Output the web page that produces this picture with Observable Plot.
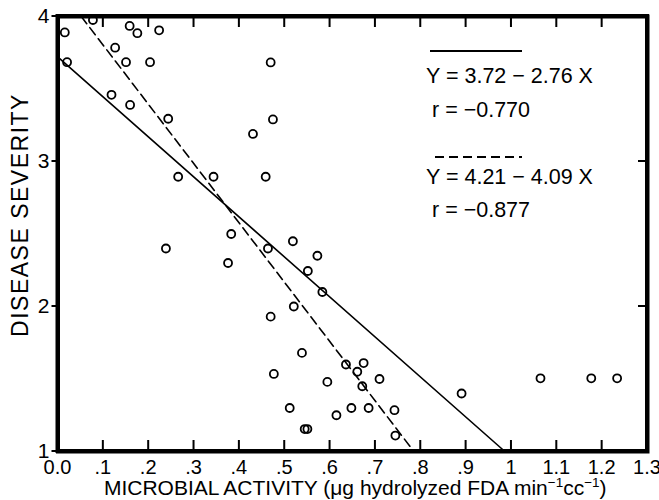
<!DOCTYPE html>
<html><head><meta charset="utf-8">
<script src="https://cdn.jsdelivr.net/npm/d3@7"></script>
<script src="https://cdn.jsdelivr.net/npm/@observablehq/plot@0.6"></script>
<style>
body{margin:0;background:#fff}
svg{display:block}
</style>
</head><body><div id="chart"></div>
<script>
// microbial activity (x) and disease severity (y) for each sample
const activity = [0.015,0.077,0.158,0.175,0.223,0.126,0.020,0.150,0.203,0.118,0.159,0.243,
  0.430,0.265,0.343,0.458,0.382,0.238,0.463,0.375,0.518,0.572,0.551,0.583,0.520,0.469,
  0.538,0.635,0.674,0.660,0.594,0.709,0.671,0.647,0.685,0.614,0.742,0.544,0.550,0.744,
  0.890,1.064,1.176,1.233,0.476,0.511,0.469,0.474];
const severity = [3.89,3.976,3.935,3.885,3.905,3.785,3.685,3.685,3.685,3.46,3.39,3.295,
  3.19,2.895,2.895,2.895,2.50,2.40,2.40,2.30,2.45,2.35,2.245,2.10,2.00,1.93,
  1.68,1.60,1.61,1.55,1.48,1.50,1.45,1.30,1.30,1.25,1.285,1.155,1.155,1.11,
  1.40,1.505,1.505,1.505,1.535,1.30,3.683,3.29];

const xTickValues = [0,0.1,0.2,0.3,0.4,0.5,0.6,0.7,0.8,0.9,1,1.1,1.2,1.3];
const xTickLabels = ["0.0",".1",".2",".3",".4",".5",".6",".7",".8",".9","1","1.1","1.2","1.3"];
const yTickValues = [1,2,3,4];
const yTickLabels = ["1","2","3","4"];

// regression fits
const fitIntercept = [3.72, 4.21];
const fitSlope = [-2.76, -4.09];
const fitRText = ["\u22120.770", "\u22120.877"];

const xLabelParts = [["MICROBIAL ACTIVITY (\u03bcg hydrolyzed FDA min", false], ["\u22121", true], ["cc", false], ["\u22121", true], [")", false]];
const yLabel = "DISEASE SEVERITY";

const points = activity.map((x, i) => ({x, y: severity[i]}));
const xDomain = [0, 1.3], yDomain = [1, 4];

const fits = fitIntercept.map((a, i) => {
  const b = fitSlope[i];
  const x0 = Math.max(xDomain[0], (yDomain[1] - a) / b);
  const x1 = Math.min(xDomain[1], (yDomain[0] - a) / b);
  return {a, b, seg: [{x: x0, y: a + b * x0}, {x: x1, y: a + b * x1}]};
});
const dashes = [null, "9,5"];

const font = "'Liberation Sans', Arial, Helvetica, sans-serif";

const SVGNS = "http://www.w3.org/2000/svg";
function el(name, attrs, parent) {
  const e = document.createElementNS(SVGNS, name);
  for (const k in attrs) if (attrs[k] != null) e.setAttribute(k, attrs[k]);
  if (parent) parent.appendChild(e);
  return e;
}

// annotation: legend swatches and fit equations
const annotationMark = (index, scales, values, dims) => {
  const g = el("g", {"font-family": font, "font-size": 21.5, fill: "#000", "text-anchor": "start"});
  const sw = [{x1: 430, x2: 522, y: 51}, {x1: 435, x2: 522, y: 157}];
  const eqBase = [83, 183.5];
  const rBase = [116.5, 216.5];
  fits.forEach((f, i) => {
    el("line", {x1: sw[i].x1, x2: sw[i].x2, y1: sw[i].y, y2: sw[i].y, stroke: "black",
      "stroke-width": 2, "stroke-dasharray": dashes[i]}, g);
    const t1 = el("text", {x: 426, y: eqBase[i], "text-anchor": "start"}, g);
    t1.textContent = `Y = ${f.a.toFixed(2)} \u2212 ${Math.abs(f.b).toFixed(2)} X`;
    const t2 = el("text", {x: 432, y: rBase[i], "text-anchor": "start"}, g);
    t2.textContent = `r = ${fitRText[i]}`;
  });
  return g;
};

// inward ticks, tick labels and axis titles drawn from the plot's scales
const axesMark = (index, scales, values, dims) => {
  const g = el("g", {"font-family": font, fill: "black"});
  const L = dims.marginLeft, R = dims.width - dims.marginRight;
  const T = dims.marginTop, B = dims.height - dims.marginBottom;
  xTickValues.forEach(v => {
    const x = scales.x(v);
    el("path", {d: `M${x},${B}V${B - 11}M${x},${T}V${T + 11}`, fill: "none", stroke: "black", "stroke-width": 2}, g);
  });
  yTickValues.forEach(v => {
    const y = scales.y(v);
    el("path", {d: `M${L - 6},${y}H${L}M${R},${y}H${R - 9}`, fill: "none", stroke: "black", "stroke-width": 2}, g);
  });
  el("rect", {x: L, y: T, width: R - L, height: B - T, fill: "none", stroke: "black", "stroke-width": 4}, g);
  xTickValues.forEach((v, i) => {
    const t = el("text", {x: scales.x(v), y: B + 23, "text-anchor": "middle", "font-size": 20}, g);
    t.textContent = xTickLabels[i];
  });
  yTickValues.forEach((v, i) => {
    const t = el("text", {x: L - 8, y: scales.y(v) + 7, "text-anchor": "end", "font-size": 21}, g);
    t.textContent = yTickLabels[i];
  });
  const xl = el("text", {x: (L + R) / 2 + 3, y: B + 44, "text-anchor": "middle", "font-size": 21}, g);
  xLabelParts.forEach(([s, sup]) => {
    const t = el("tspan", sup ? {"font-size": 13.5, "baseline-shift": "55%"} : {}, xl);
    t.textContent = s;
  });
  const yl = el("text", {transform: "translate(28,215) rotate(-90)", "text-anchor": "middle",
    "font-size": 23, "letter-spacing": 1.5}, g);
  yl.textContent = yLabel;
  return g;
};

const chart = Plot.plot({
  width: 659, height: 500,
  marginLeft: 57.5, marginRight: 12, marginTop: 16, marginBottom: 49,
  x: {domain: xDomain, ticks: [], label: null},
  y: {domain: yDomain, ticks: [], label: null},
  marks: [
    ...fits.map((f, i) => Plot.line(f.seg, {x: "x", y: "y", stroke: "black", strokeWidth: 1.6, strokeDasharray: dashes[i]})),
    Plot.dot(points, {x: "x", y: "y", r: 4, stroke: "black", strokeWidth: 1.8, fill: "none"}),
    annotationMark,
    Plot.frame({stroke: "black", strokeWidth: 4}),
    axesMark
  ]
});

document.getElementById("chart").appendChild(chart);
</script>
</body></html>
